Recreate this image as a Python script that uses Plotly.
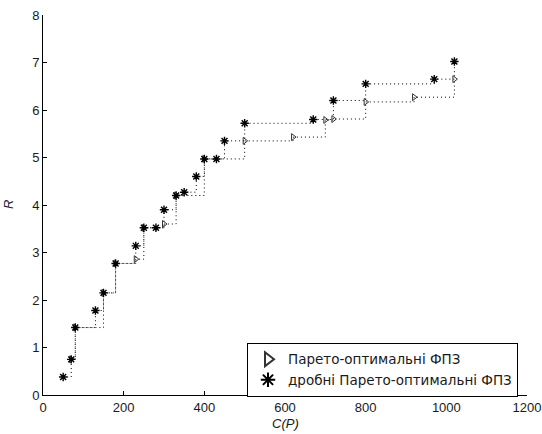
import plotly.graph_objects as go

# Pareto-optimal (triangles)
par_x = [70, 80, 150, 180, 230, 250, 300, 330, 400, 500, 620, 700, 720, 800, 920, 1020]
par_y = [0.75, 1.42, 2.15, 2.77, 2.86, 3.52, 3.60, 4.20, 4.97, 5.35, 5.43, 5.79, 5.81, 6.17, 6.27, 6.65]

# fractional Pareto-optimal (stars)
frac_x = [50, 70, 80, 130, 150, 180, 230, 250, 280, 300, 330, 350, 380, 400, 430, 450, 500, 670, 720, 800, 970, 1020]
frac_y = [0.38, 0.75, 1.42, 1.78, 2.15, 2.77, 3.14, 3.52, 3.52, 3.90, 4.20, 4.27, 4.60, 4.97, 4.97, 5.35, 5.72, 5.80, 6.20, 6.55, 6.65, 7.02]

x_ticks = [0, 200, 400, 600, 800, 1000, 1200]
y_ticks = [0, 1, 2, 3, 4, 5, 6, 7, 8]

FONT = "Liberation Sans, Arial"
TXT = "#1a1a1a"

fig = go.Figure()

# dotted stair lines (MATLAB stairs: horizontal then vertical)
for xs, ys in [(par_x, par_y), (frac_x, frac_y)]:
    fig.add_trace(go.Scatter(x=xs, y=ys, mode="lines",
                             line=dict(shape="hv", dash="1px,3px", color="black", width=1),
                             showlegend=False, hoverinfo="skip"))

fig.add_trace(go.Scatter(x=par_x, y=par_y, mode="markers", name="Парето-оптимальні ФПЗ",
                         marker=dict(symbol="triangle-right-open", size=6, color="#333333",
                                     line=dict(width=1, color="#333333"))))
fig.add_trace(go.Scatter(x=frac_x, y=frac_y, mode="markers", name="дробні Парето-оптимальні ФПЗ",
                         marker=dict(symbol="asterisk-open", size=7, color="black",
                                     line=dict(width=1.4, color="black"))))

axis_common = dict(showline=True, linecolor="black", linewidth=1, ticks="inside", ticklen=4,
                   tickcolor="black", showgrid=False, zeroline=False, mirror=False, automargin=False,
                   tickfont=dict(family=FONT, size=13, color=TXT))

fig.update_layout(
    width=542, height=434,
    margin=dict(l=43, r=15, t=15, b=39),
    paper_bgcolor="white", plot_bgcolor="white",
    xaxis=dict(range=[0, 1200], tickvals=x_ticks, **axis_common),
    yaxis=dict(range=[0, 8], tickvals=y_ticks, **axis_common),
    legend=dict(x=0.4215, y=0.137, xanchor="left", yanchor="top", bordercolor="black", borderwidth=1,
                bgcolor="white", font=dict(family="DejaVu Sans", size=13.5, color=TXT),
                tracegroupgap=0, itemsizing="constant"),
    showlegend=True,
    annotations=[
        dict(text="<i>C(P)</i>", xref="paper", yref="paper", x=0.5, y=0, yshift=-28,
             xanchor="center", yanchor="middle", showarrow=False,
             font=dict(family=FONT, size=13, color=TXT)),
        dict(text="<i>R</i>", xref="paper", yref="paper", x=0, y=0.5, xshift=-35,
             xanchor="center", yanchor="middle", textangle=-90, showarrow=False,
             font=dict(family=FONT, size=13, color=TXT)),
    ],
)

fig.write_html("out.html")
